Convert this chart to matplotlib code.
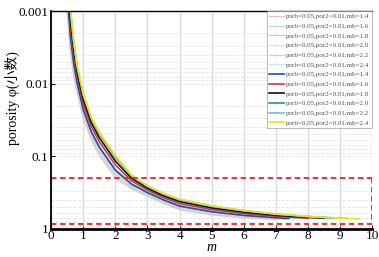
import matplotlib.pyplot as plt

m_grid = [0.5, 0.6, 0.7, 0.8, 1.0, 1.25, 1.5, 2.0, 2.5, 3.0, 3.5, 4.0, 5.0, 6.0, 7.0, 8.0, 9.0]

# faded set (first six legend entries)
m_f14 = [0.45] + m_grid[:14] + [6.9]
phi_f14 = [0.0005, 0.00101, 0.00379, 0.00773, 0.0128, 0.0302, 0.0594, 0.0966, 0.199, 0.28,
           0.356, 0.445, 0.546, 0.64, 0.705, 0.735]
m_f16 = [0.45] + m_grid[:15]
phi_f16 = [0.0005, 0.000887, 0.00335, 0.007, 0.0118, 0.0282, 0.0558, 0.0906, 0.187, 0.269,
           0.346, 0.433, 0.53, 0.624, 0.693, 0.738]
m_f18 = m_grid[:15] + [7.3]
phi_f18 = [0.000778, 0.00296, 0.00634, 0.011, 0.0263, 0.0524, 0.0849, 0.175, 0.259,
           0.336, 0.421, 0.514, 0.608, 0.679, 0.726, 0.735]
m_f20 = m_grid[:14] + [6.9]
phi_f20 = [0.000714, 0.00272, 0.00593, 0.0104, 0.0251, 0.0502, 0.0813, 0.168, 0.252,
           0.329, 0.413, 0.504, 0.598, 0.670, 0.72]
m_f22 = m_grid[:15] + [7.6]
phi_f22 = [0.000655, 0.0025, 0.00556, 0.00989, 0.024, 0.0481, 0.078, 0.161, 0.246,
           0.323, 0.406, 0.494, 0.588, 0.659, 0.71, 0.728]
m_f24 = m_grid[:16]
phi_f24 = [0.000526, 0.00203, 0.00471, 0.0087, 0.0214, 0.0433, 0.07, 0.146, 0.231,
           0.307, 0.387, 0.47, 0.564, 0.637, 0.69, 0.724]

# bold set
m_14 = m_grid[:15] + [7.4]
phi_14 = [0.0006, 0.0023, 0.0052, 0.0094, 0.0229, 0.0461, 0.0747, 0.155, 0.24,
          0.316, 0.398, 0.484, 0.578, 0.65, 0.701, 0.718]
m_16 = m_grid[:16]
phi_16 = [0.000424, 0.00165, 0.00399, 0.00765, 0.0191, 0.0389, 0.0629, 0.131, 0.216,
          0.292, 0.370, 0.447, 0.540, 0.614, 0.670, 0.71]
m_18 = m_grid[:16] + [8.5]
phi_18 = [0.000326, 0.00129, 0.00327, 0.00656, 0.0166, 0.0343, 0.0553, 0.116, 0.2,
          0.275, 0.35, 0.42, 0.513, 0.587, 0.648, 0.693, 0.71]
m_20 = m_grid[:16] + [8.8]
phi_20 = [0.00025, 0.001, 0.00268, 0.00562, 0.0145, 0.0302, 0.0486, 0.102, 0.185,
          0.259, 0.331, 0.396, 0.488, 0.562, 0.627, 0.676, 0.71]
m_22 = m_grid[:16] + [9.2]
phi_22 = [0.00024, 0.00096, 0.0026, 0.00548, 0.0141, 0.0296, 0.0476, 0.1, 0.183,
          0.256, 0.328, 0.392, 0.483, 0.558, 0.623, 0.673, 0.714]
m_24 = m_grid + [9.6]
phi_24 = [0.00023, 0.00092, 0.00251, 0.00534, 0.0138, 0.029, 0.0466, 0.098, 0.181,
          0.254, 0.325, 0.388, 0.48, 0.555, 0.619, 0.671, 0.711, 0.727]

mb_values = ['1.4', '1.6', '1.8', '2.0', '2.2', '2.4']
faded = [(m_f14, phi_f14), (m_f16, phi_f16), (m_f18, phi_f18),
         (m_f20, phi_f20), (m_f22, phi_f22), (m_f24, phi_f24)]
bold = [(m_14, phi_14), (m_16, phi_16), (m_18, phi_18),
        (m_20, phi_20), (m_22, phi_22), (m_24, phi_24)]
faded_colors = ['#e9c4b8', '#d4d4d4', '#c3ccda', '#e0e0e0', '#cccdde', '#c8e8ef']
bold_colors = ['#1f4ea8', '#d2323c', '#111111', '#21a060', '#6bbcdc', '#f2e21a']

# red dashed box
box_m = [0, 10]
box_phi = [0.2, 0.86]

plt.rcParams['font.family'] = ['Liberation Serif', 'Noto Sans CJK SC']
fig = plt.figure(figsize=(3.79, 2.57), dpi=100)
ax = fig.add_axes([0.135, 0.109, 0.847, 0.848])

for (mm, pp), c, mb in zip(faded, faded_colors, mb_values):
    ax.plot(mm, pp, color=c, lw=0.9, label=f'porb=0.05,por2=0.01,mb={mb}')
for (mm, pp), c, mb in zip(bold, bold_colors, mb_values):
    ax.plot(mm, pp, color=c, lw=1.2, label=f'porb=0.05,por2=0.01,mb={mb}')

for p in box_phi:
    ax.plot(box_m, [p, p], color='#e0262a', lw=1.3, ls=(0, (3, 2)))
for mv in box_m:
    ax.plot([mv, mv], box_phi, color='#e0262a', lw=1.3, ls=(0, (3, 2)))

ax.set_yscale('log')
ax.set_ylim(1, 0.001)
ax.set_xlim(0, 10)
ax.set_xticks(range(11))
ax.set_yticks([0.001, 0.01, 0.1, 1])
ax.set_yticklabels(['0.001', '0.01', '0.1', '1'])
ax.tick_params(direction='in', labelsize=9.5, length=3)
ax.tick_params(axis='x', pad=1)
ax.tick_params(axis='y', pad=2)
ax.tick_params(which='minor', length=0)
ax.grid(True, which='major', axis='x', color='#dcdcdc', lw=1.0)
ax.grid(True, which='both', axis='y', color='#e4e4e4', lw=0.6, ls='--')
ax.spines['bottom'].set_linewidth(2.0)
ax.spines['left'].set_linewidth(1.3)
ax.spines['top'].set_linewidth(1.0)
ax.spines['right'].set_visible(False)

ax.set_xlabel('m', fontstyle='italic', fontsize=10, labelpad=-1)
ax.set_ylabel('porosity φ(小数)', fontsize=10)
ax.yaxis.set_label_coords(-0.098, 0.6)

leg = ax.legend(loc='upper right', fontsize=5, frameon=True, fancybox=False,
                handlelength=2.2, handletextpad=0.3, labelspacing=0.55,
                borderaxespad=0.05, borderpad=0.3)
leg.get_frame().set_edgecolor('#999999')
leg.get_frame().set_linewidth(0.6)
for t in leg.get_texts():
    t.set_color('#555555')

fig.savefig('out.png', dpi=100)
